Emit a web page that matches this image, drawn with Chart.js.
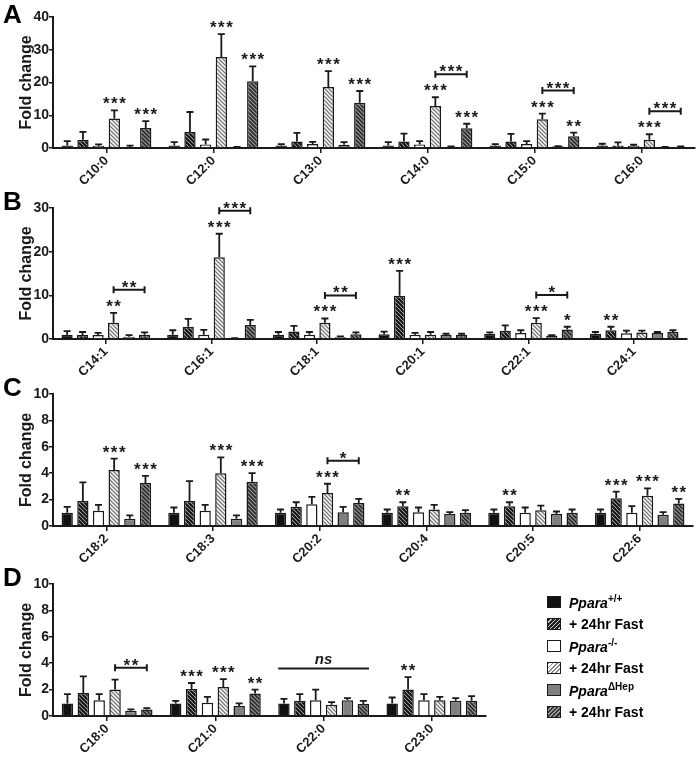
<!DOCTYPE html>
<html>
<head>
<meta charset="utf-8">
<script src="https://cdn.jsdelivr.net/npm/chart.js@4.4.1/dist/chart.umd.min.js"></script>
<style>
    body { margin: 0; background: #fff; font-family: "Liberation Sans", Arial, sans-serif; }
    #wrap { position: relative; width: 697px; height: 759px; overflow: hidden; }
    canvas { position: absolute; left: 0; }
    .letter { position: absolute; left: 3px; font-weight: bold; font-size: 26px; line-height: 26px; }
    .legend { position: absolute; left: 547px; top: 591px; font-weight: bold; font-size: 14px; }
    .legend .row { height: 22px; display: flex; align-items: center; }
    .legend .sw { width: 12px; height: 10px; border: 1.5px solid #1a1a1a; margin-right: 8px; }
    .legend sup { font-size: 10px; font-style: normal; }
</style>
</head>
<body>
<div id="wrap">
    <canvas id="chartA" width="697" height="190" style="top:0px"></canvas>
    <canvas id="chartB" width="697" height="190" style="top:188px"></canvas>
    <canvas id="chartC" width="697" height="190" style="top:378px"></canvas>
    <canvas id="chartD" width="697" height="191" style="top:568px"></canvas>
    <div class="letter" style="top:1px">A</div>
    <div class="letter" style="top:188px">B</div>
    <div class="letter" style="top:374px">C</div>
    <div class="letter" style="top:564px">D</div>
    <div class="legend">
        <div class="row"><span class="sw" style="background:#111"></span><span><i>Ppara</i><sup>+/+</sup></span></div>
        <div class="row"><span class="sw" style="background:repeating-linear-gradient(135deg,#222 0 2px,#ccc 2px 3px)"></span><span>+ 24hr Fast</span></div>
        <div class="row"><span class="sw" style="background:#fff"></span><span><i>Ppara</i><sup>-/-</sup></span></div>
        <div class="row"><span class="sw" style="background:repeating-linear-gradient(135deg,#888 0 1.2px,#fff 1.2px 3px)"></span><span>+ 24hr Fast</span></div>
        <div class="row"><span class="sw" style="background:#808080"></span><span><i>Ppara</i><sup>ΔHep</sup></span></div>
        <div class="row"><span class="sw" style="background:repeating-linear-gradient(135deg,#333 0 1.5px,#999 1.5px 3px)"></span><span>+ 24hr Fast</span></div>
    </div>
</div>

<script>
/**
 * Fatty acid fold change panels (A-D)
 * series order: Ppara+/+, +Fast, Ppara-/-, +Fast, PparaΔHep, +Fast
 */

// Panel A - saturated, medium chain
const catsA = ['C10:0', 'C12:0', 'C13:0', 'C14:0', 'C15:0', 'C16:0'];
const valuesA = [
    [0.8, 0.8, 0.8, 0.8, 0.8, 0.8],
    [2.5, 4.9, 2.0, 2.0, 2.0, 0.8],
    [0.6, 1.1, 1.2, 1.1, 1.2, 0.6],
    [9.0, 27.8, 18.6, 12.8, 8.8, 2.5],
    [0.3, 0.2, 1.0, 0.4, 0.5, 0.2],
    [6.1, 20.4, 13.8, 6.0, 3.6, 0.4]
];
const errorsA = [
    [1.3, 1.0, 0.4, 1.0, 0.4, 0.5],
    [2.4, 6.1, 2.6, 2.4, 2.3, 0.9],
    [0.5, 1.5, 0.7, 1.0, 0.9, 0.4],
    [2.5, 7.0, 4.9, 2.7, 1.7, 1.7],
    [0.4, 0.1, 0.8, 0.1, 0.1, 0.1],
    [2.1, 4.5, 3.6, 1.4, 1.1, 0.1]
];
const starsA = [[0, 3, '***'], [0, 5, '***'], [1, 3, '***'], [1, 5, '***'], [2, 3, '***'], [2, 5, '***'],
                [3, 3, '***'], [3, 5, '***'], [4, 3, '***'], [4, 5, '**'], [5, 3, '***']];
const bracketsA = [[3, 3, 5, '***'], [4, 3, 5, '***'], [5, 3, 5, '***']];

// Panel B - monounsaturated
const catsB = ['C14:1', 'C16:1', 'C18:1', 'C20:1', 'C22:1', 'C24:1'];
const valuesB = [
    [1.0, 1.0, 1.0, 1.1, 1.2, 1.2],
    [0.9, 2.8, 1.7, 9.9, 1.9, 2.0],
    [0.9, 1.0, 1.0, 1.0, 1.4, 1.3],
    [3.7, 18.7, 3.7, 1.0, 3.7, 1.5],
    [0.5, 0.15, 0.4, 0.9, 0.8, 1.4],
    [1.0, 3.2, 1.1, 0.9, 2.2, 1.6]
];
const errorsB = [
    [0.8, 1.0, 0.6, 0.6, 0.3, 0.4],
    [0.7, 1.8, 1.3, 5.7, 1.2, 0.8],
    [0.5, 1.1, 0.6, 0.4, 0.6, 0.6],
    [2.3, 5.4, 1.0, 0.6, 1.1, 0.4],
    [0.4, 0.05, 0.2, 0.3, 0.1, 0.2],
    [0.5, 1.2, 0.4, 0.3, 0.6, 0.4]
];
const starsB = [[0, 3, '**'], [1, 3, '***'], [2, 3, '***'], [3, 1, '***'], [4, 3, '***'], [4, 5, '*'], [5, 1, '**']];
const bracketsB = [[0, 3, 5, '**'], [1, 3, 5, '***'], [2, 3, 5, '**'], [4, 3, 5, '*']];

// Panel C - polyunsaturated
const catsC = ['C18:2', 'C18:3', 'C20:2', 'C20:4', 'C20:5', 'C22:6'];
const valuesC = [
    [1.0, 1.0, 1.0, 1.0, 1.0, 1.0],
    [1.9, 1.9, 1.45, 1.5, 1.5, 2.1],
    [1.15, 1.15, 1.65, 1.05, 1.0, 1.0],
    [4.25, 4.0, 2.5, 1.25, 1.2, 2.3],
    [0.55, 0.55, 1.05, 0.9, 0.9, 0.85],
    [3.25, 3.35, 1.75, 1.0, 1.0, 1.7]
];
const errorsC = [
    [0.45, 0.4, 0.25, 0.25, 0.25, 0.25],
    [1.4, 1.5, 0.35, 0.3, 0.3, 0.5],
    [0.45, 0.45, 0.55, 0.35, 0.4, 0.5],
    [0.85, 1.2, 0.7, 0.35, 0.35, 0.55],
    [0.25, 0.25, 0.4, 0.15, 0.2, 0.2],
    [0.55, 0.65, 0.3, 0.2, 0.25, 0.35]
];
const starsC = [[0, 3, '***'], [0, 5, '***'], [1, 3, '***'], [1, 5, '***'], [2, 3, '***'],
                [3, 1, '**'], [4, 1, '**'], [5, 1, '***'], [5, 3, '***'], [5, 5, '**']];
const bracketsC = [[2, 3, 5, '*']];

// Panel D - saturated, long chain
const catsD = ['C18:0', 'C21:0', 'C22:0', 'C23:0'];
const valuesD = [
    [0.95, 0.95, 0.95, 0.95],
    [1.75, 2.05, 1.15, 2.0],
    [1.2, 1.0, 1.2, 1.2],
    [2.0, 2.2, 0.85, 1.2],
    [0.4, 0.75, 1.2, 1.15],
    [0.5, 1.7, 0.9, 1.15]
];
const errorsD = [
    [0.7, 0.2, 0.35, 0.45],
    [1.25, 0.45, 0.5, 0.95],
    [0.45, 0.45, 0.8, 0.45],
    [0.75, 0.6, 0.2, 0.25],
    [0.1, 0.2, 0.15, 0.2],
    [0.1, 0.3, 0.25, 0.35]
];
const starsD = [[1, 1, '***'], [1, 3, '***'], [1, 5, '**'], [3, 1, '**']];
const bracketsD = [[0, 3, 5, '**']];
const nsD = [[2, 'ns']];

const SERIES = ['Ppara+/+', '+ 24hr Fast', 'Ppara-/-', '+ 24hr Fast', 'PparaΔHep', '+ 24hr Fast'];
const FONT = '"Liberation Sans", Arial, sans-serif';
const INK = '#1a1a1a';

/**
 * Diagonal hatch pattern ("\" direction)
 */
function makeHatch(bg, fg, lw) {
    const c = document.createElement('canvas');
    c.width = c.height = 4;
    const g = c.getContext('2d');
    g.fillStyle = bg;
    g.fillRect(0, 0, 4, 4);
    g.strokeStyle = fg;
    g.lineWidth = lw;
    g.beginPath();
    g.moveTo(-1, -1); g.lineTo(5, 5);
    g.moveTo(-1, 3); g.lineTo(1, 5);
    g.moveTo(3, -1); g.lineTo(5, 1);
    g.stroke();
    return g.createPattern(c, 'repeat');
}

const FILLS = [
    '#111111',
    makeHatch('#d0d0d0', '#111', 2.2),
    '#ffffff',
    makeHatch('#ffffff', '#777', 1.3),
    '#808080',
    makeHatch('#9a9a9a', '#2a2a2a', 1.6)
];

/**
 * Error bars, stars and brackets
 */
const annotatePlugin = {
    id: 'annotate',
    afterDatasetsDraw(chart, args, opts) {
        const ctx = chart.ctx;
        const y = chart.scales.y;
        const vals = opts.values, errs = opts.errors;
        const bar = (s, c) => chart.getDatasetMeta(s).data[c];
        const topPx = (s, c) => y.getPixelForValue(vals[s][c] + errs[s][c]);

        ctx.save();
        ctx.strokeStyle = INK;
        ctx.lineWidth = 1.8;

        // error bars (upper only)
        vals.forEach((row, s) => {
            row.forEach((v, c) => {
                const el = bar(s, c);
                const yt = topPx(s, c);
                ctx.beginPath();
                ctx.moveTo(el.x, el.y);
                ctx.lineTo(el.x, yt);
                ctx.moveTo(el.x - 3.5, yt);
                ctx.lineTo(el.x + 3.5, yt);
                ctx.stroke();
            });
        });

        ctx.fillStyle = INK;
        ctx.textAlign = 'center';
        ctx.textBaseline = 'alphabetic';
        ctx.font = 'bold 17px ' + FONT;
        ctx.letterSpacing = '1.5px';

        const hasStar = (c, s) => (opts.stars || []).some(st => st[0] === c && st[1] === s);

        (opts.stars || []).forEach(([c, s, txt]) => {
            ctx.fillText(txt, bar(s, c).x + 0.75, topPx(s, c) - 1);
        });

        (opts.brackets || []).forEach(([c, s0, s1, txt]) => {
            let hi = Infinity;
            for (let s = s0; s <= s1; s++) hi = Math.min(hi, topPx(s, c));
            const ly = hi - (hasStar(c, s0) ? 23 : 12);
            const x0 = bar(s0, c).x, x1 = bar(s1, c).x;
            ctx.lineWidth = 2;
            ctx.beginPath();
            ctx.moveTo(x0, ly); ctx.lineTo(x1, ly);
            ctx.moveTo(x0, ly - 3.5); ctx.lineTo(x0, ly + 3.5);
            ctx.moveTo(x1, ly - 3.5); ctx.lineTo(x1, ly + 3.5);
            ctx.stroke();
            ctx.fillText(txt, (x0 + x1) / 2 + 0.75, ly + 3);
        });

        (opts.ns || []).forEach(([c, txt]) => {
            let hi = Infinity;
            for (let s = 0; s < vals.length; s++) hi = Math.min(hi, topPx(s, c));
            const ly = hi - 21;
            const first = bar(0, c), last = bar(vals.length - 1, c);
            const x0 = first.x - first.width / 2, x1 = last.x + last.width / 2;
            ctx.lineWidth = 2;
            ctx.beginPath();
            ctx.moveTo(x0, ly); ctx.lineTo(x1, ly);
            ctx.stroke();
            ctx.letterSpacing = '0px';
            ctx.font = 'italic bold 15px ' + FONT;
            ctx.textBaseline = 'bottom';
            ctx.fillText(txt, (x0 + x1) / 2, ly - 1);
        });
        ctx.restore();
    }
};

/**
 * Create one panel
 */
function createPanel(canvasId, cats, values, errors, cfg) {
    const datasets = values.map((row, i) => ({
        label: SERIES[i],
        data: row,
        backgroundColor: FILLS[i],
        borderColor: INK,
        borderWidth: 1.5,
        borderSkipped: 'bottom',
        categoryPercentage: 0.88,
        barPercentage: 0.72
    }));

    return new Chart(document.getElementById(canvasId), {
        type: 'bar',
        data: { labels: cats, datasets: datasets },
        plugins: [annotatePlugin],
        options: {
            responsive: false,
            animation: false,
            events: [],
            layout: { padding: { top: cfg.top, right: cfg.right, left: 0, bottom: 0 } },
            plugins: {
                legend: { display: false },
                tooltip: { enabled: false },
                annotate: {
                    values: values,
                    errors: errors,
                    stars: cfg.stars,
                    brackets: cfg.brackets,
                    ns: cfg.ns
                }
            },
            scales: {
                x: {
                    grid: { display: true, drawOnChartArea: false, offset: false, tickLength: 5, color: INK, lineWidth: 1.5 },
                    border: { display: true, color: INK, width: 2 },
                    ticks: {
                        color: INK,
                        maxRotation: 45,
                        minRotation: 45,
                        padding: 0,
                        font: { family: FONT, size: 13, weight: 'bold' }
                    },
                    afterFit(scale) {
                        scale.height = cfg.xHeight;
                        scale.paddingLeft = 0;
                        scale.paddingRight = 0;
                    }
                },
                y: {
                    min: 0,
                    max: cfg.max,
                    ticks: {
                        stepSize: cfg.step,
                        color: INK,
                        padding: 0,
                        font: { family: FONT, size: 14, weight: 'bold' }
                    },
                    grid: { display: true, drawOnChartArea: false, tickLength: 4, color: INK, lineWidth: 1.5 },
                    border: { display: true, color: INK, width: 2 },
                    title: {
                        display: true,
                        text: 'Fold change',
                        color: INK,
                        padding: { top: 17, bottom: 0 },
                        font: { family: FONT, size: 16, weight: 'bold' }
                    },
                    afterFit(scale) {
                        scale.width = 53;
                        scale.paddingTop = 0;
                        scale.paddingBottom = 0;
                    }
                }
            }
        }
    });
}

const charts = {};
charts.a = createPanel('chartA', catsA, valuesA, errorsA,
    { top: 17, right: 2, xHeight: 42, max: 40, step: 10, stars: starsA, brackets: bracketsA });
charts.b = createPanel('chartB', catsB, valuesB, errorsB,
    { top: 20, right: 10, xHeight: 39, max: 30, step: 10, stars: starsB, brackets: bracketsB });
charts.c = createPanel('chartC', catsC, valuesC, errorsC,
    { top: 16, right: 4, xHeight: 42, max: 10, step: 2, stars: starsC, brackets: bracketsC });
charts.d = createPanel('chartD', catsD, valuesD, errorsD,
    { top: 16, right: 211, xHeight: 43, max: 10, step: 2, stars: starsD, brackets: bracketsD, ns: nsD });
</script>
</body>
</html>
